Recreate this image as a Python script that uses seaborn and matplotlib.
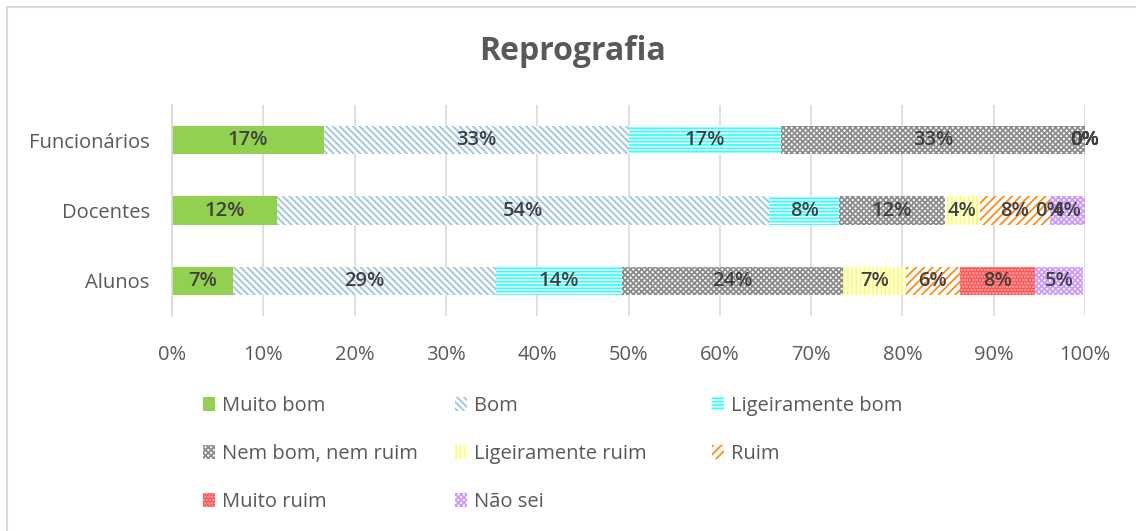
import numpy as np
import pandas as pd
import matplotlib.pyplot as plt
import seaborn as sns
from matplotlib.lines import Line2D

sns.set_style("white")
plt.rcParams["font.family"] = ["Open Sans", "DejaVu Sans"]
plt.rcParams["hatch.linewidth"] = 1.3

# data (percent of answers)
groups = ["Funcionários", "Docentes", "Alunos"]
categories = ["Muito bom", "Bom", "Ligeiramente bom", "Nem bom, nem ruim",
              "Ligeiramente ruim", "Ruim", "Muito ruim", "Não sei"]
funcionarios = [16.67, 33.33, 16.67, 33.33, 0, 0, 0, 0]
docentes = [11.54, 53.85, 7.69, 11.54, 3.85, 7.69, 0, 3.85]
alunos = [6.7, 28.8, 13.8, 24.2, 6.9, 5.9, 8.2, 5.3]

# style per category: face, hatch colour, hatch
styles = {
    "Muito bom": ("#92D050", "#92D050", None),
    "Bom": ("white", "#9DC3E6", "\\\\\\\\\\"),
    "Ligeiramente bom": ("white", "#33FFFF", "-----"),
    "Nem bom, nem ruim": ("white", "#8C8C8C", "xxxxxx"),
    "Ligeiramente ruim": ("white", "#FFFF55", "||||"),
    "Ruim": ("white", "#FF8C1A", "////"),
    "Muito ruim": ("#FF4D4D", "#FFB3B3", "....."),
    "Não sei": ("white", "#CC99FF", "xxxxxx"),
}

vals = pd.DataFrame([funcionarios, docentes, alunos], index=groups, columns=categories)
cum = vals.cumsum(axis=1)

fig = plt.figure(figsize=(11.36, 5.31), dpi=100)
ax = fig.add_axes([172 / 1136, 1 - 316 / 531, 913 / 1136, 211 / 531])

# stacked bars: draw cumulative totals from last category to first
for cat in categories[::-1]:
    face, hcol, hatch = styles[cat]
    d = pd.DataFrame({"group": groups, "cum": cum[cat].values})
    sns.barplot(data=d, x="cum", y="group", orient="h", width=0.4,
                color=face, edgecolor=hcol, hatch=hatch, linewidth=0,
                saturation=1, label=cat, ax=ax)

h, l = ax.get_legend_handles_labels()
lookup = dict(zip(l, h))
if ax.get_legend() is not None:
    ax.get_legend().remove()

# data labels
for gi, g in enumerate(groups):
    for cat in categories:
        v = vals.loc[g, cat]
        ax.text(cum.loc[g, cat] - v / 2, gi, f"{round(v)}%", ha="center",
                va="center", fontsize=14.5, fontweight="semibold", color="#404040")

ax.set_xlim(0, 100)
ax.set_ylim(2.5, -0.5)
ax.set_xticks(np.arange(0, 101, 10))
ax.set_xticklabels([f"{t}%" for t in range(0, 101, 10)])
ax.set_xlabel("")
ax.set_ylabel("")
ax.tick_params(axis="both", labelsize=14.5, colors="#595959", length=0)
ax.tick_params(axis="y", pad=16)
ax.tick_params(axis="x", pad=21)
ax.grid(axis="x", color="#D9D9D9", linewidth=1.2)
ax.set_axisbelow(True)
for s in ["top", "right", "bottom"]:
    ax.spines[s].set_visible(False)
ax.spines["left"].set_color("#D9D9D9")
ax.spines["left"].set_linewidth(1.2)

fig.text(573 / 1136, 1 - 52 / 531, "Reprografia", ha="center", va="center",
         fontsize=23, fontweight="bold", color="#595959")

# legend: three columns filled row by row, like the original
columns = [["Muito bom", "Nem bom, nem ruim", "Muito ruim"],
           ["Bom", "Ligeiramente ruim", "Não sei"],
           ["Ligeiramente bom", "Ruim"]]
col_x = [197, 449, 706]
for xs, names in zip(col_x, columns):
    leg = fig.legend([lookup[n] for n in names], names, loc="upper left",
                     bbox_to_anchor=(xs / 1136, 1 - 390 / 531), frameon=False,
                     fontsize=14.5, handlelength=0.6, handleheight=0.7,
                     handletextpad=0.35, labelspacing=1.4, labelcolor="#595959",
                     borderaxespad=0, borderpad=0.3)

# chart border (top and left edges visible)
fig.add_artist(Line2D([7 / 1136, 7 / 1136], [0, 1 - 7 / 531], color="#D9D9D9", lw=1.5))
fig.add_artist(Line2D([7 / 1136, 1], [1 - 7 / 531, 1 - 7 / 531], color="#D9D9D9", lw=1.5))

fig.savefig("out.png", dpi=100)
